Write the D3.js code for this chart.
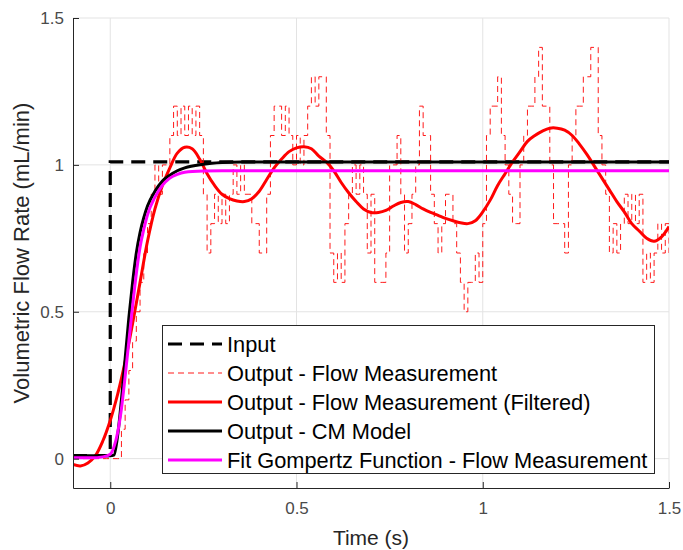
<!DOCTYPE html>
<html>
<head>
<meta charset="utf-8">
<script src="https://cdn.jsdelivr.net/npm/d3@7/dist/d3.min.js"></script>
<style>
  html, body { margin: 0; padding: 0; background: #fff; }
  svg { display: block; font-family: "Liberation Sans", Arial, Helvetica, sans-serif; }
</style>
</head>
<body>
<svg id="chart" width="683" height="550"></svg>
<script>
// ---------------- DATA ----------------
const xTicks = [0, 0.5, 1, 1.5];
const yTicks = [0, 0.5, 1, 1.5];
const xLabel = "Time (s)";
const yLabel = "Volumetric Flow Rate (mL/min)";
const legendLabels = [
  "Input",
  "Output - Flow Measurement",
  "Output - Flow Measurement (Filtered)",
  "Output - CM Model",
  "Fit Gompertz Function - Flow Measurement"
];

// Input step
const inputT = [-0.1, 0, 0, 1.5];
const inputV = [0.01, 0.01, 1.01, 1.01];

// Raw flow measurement, sampled every 0.01 s from -0.10 to 1.50
const measStart = -0.1, measStep = 0.01;
const measV = [
  0,0,0,0,0,0,0,0,0,0,0,0,0,
  0.1,0.2,0.3,0.4,0.5,0.6,0.7,0.8,0.9,1.0,
  0.9,1.0,1.0,1.1,1.2,1.1,1.2,1.1,1.2,1.1,
  1.2,1.1,0.9,0.7,0.8,0.9,0.8,0.9,0.8,0.9,
  1.0,0.9,1.0,0.9,0.9,0.8,0.8,0.7,0.7,0.9,
  1.1,1.2,1.2,1.1,1.2,1.1,1.0,1.1,1.0,1.1,
  1.2,1.3,1.2,1.3,1.3,1.1,0.7,0.6,0.7,0.6,
  0.8,0.9,1.0,0.9,1.0,0.9,0.7,0.9,0.6,0.6,
  0.6,0.7,1.0,1.0,1.1,0.9,0.7,0.8,0.9,1.0,
  1.2,1.1,1.1,0.9,0.8,0.7,0.8,0.9,0.9,0.8,
  0.7,0.6,0.5,0.6,0.6,0.7,0.6,0.8,1.1,1.2,
  1.2,1.3,1.1,1.0,0.9,0.8,0.8,1.0,1.1,1.2,
  1.2,1.3,1.4,1.2,1.2,1.0,0.8,0.8,0.8,0.7,
  1.0,1.1,1.2,1.2,1.3,1.3,1.4,1.4,1.1,1.0,
  0.9,0.7,0.8,0.7,0.8,0.9,0.8,0.9,0.8,0.9,
  0.6,0.7,0.6,0.7,0.8,0.7,0.8,0.7
];

// Filtered measurement
const filtT = [-0.10,-0.08,-0.06,-0.04,-0.02,0.00,0.02,0.04,0.06,0.08,0.10,0.12,0.14,0.16,0.18,0.20,0.22,0.24,0.26,0.28,0.30,0.32,0.34,0.36,0.38,0.40,0.42,0.44,0.46,0.48,0.50,0.52,0.54,0.56,0.58,0.60,0.62,0.64,0.66,0.68,0.70,0.72,0.74,0.76,0.78,0.80,0.82,0.84,0.86,0.88,0.90,0.92,0.94,0.96,0.98,1.00,1.02,1.04,1.06,1.08,1.10,1.12,1.14,1.16,1.18,1.20,1.22,1.24,1.26,1.28,1.30,1.32,1.34,1.36,1.38,1.40,1.42,1.44,1.46,1.48,1.50];
const filtV = [-0.02,-0.025,-0.015,0.01,0.06,0.13,0.22,0.33,0.46,0.60,0.74,0.85,0.93,0.99,1.04,1.06,1.055,1.02,0.97,0.93,0.90,0.885,0.877,0.875,0.885,0.91,0.95,0.99,1.02,1.045,1.058,1.062,1.055,1.03,1.01,0.98,0.94,0.905,0.875,0.85,0.838,0.838,0.845,0.86,0.872,0.875,0.865,0.85,0.838,0.828,0.818,0.81,0.803,0.80,0.81,0.84,0.88,0.93,0.97,1.01,1.045,1.08,1.10,1.115,1.125,1.125,1.118,1.10,1.07,1.035,0.995,0.955,0.915,0.875,0.84,0.80,0.775,0.75,0.74,0.755,0.79];

// CM model output
const cmT = [-0.10,0.00,0.01,0.02,0.03,0.04,0.05,0.06,0.07,0.08,0.09,0.10,0.12,0.14,0.16,0.18,0.20,0.25,0.30,0.35,1.50];
const cmV = [0.01,0.01,0.012,0.08,0.20,0.34,0.48,0.60,0.70,0.77,0.82,0.86,0.91,0.945,0.965,0.98,0.99,1.002,1.008,1.01,1.01];

// Gompertz fit
const gompT = [-0.10,-0.05,-0.02,0.00,0.01,0.02,0.03,0.04,0.05,0.06,0.07,0.08,0.09,0.10,0.12,0.14,0.16,0.18,0.20,0.25,0.30,1.50];
const gompV = [0.003,0.003,0.006,0.015,0.04,0.09,0.17,0.28,0.40,0.52,0.63,0.72,0.78,0.83,0.89,0.93,0.955,0.968,0.975,0.979,0.98,0.98];

// ---------------- CHART ----------------
const svg = d3.select("#chart");
const pL = 73, pR = 669, pT = 18, pB = 488;
const x = d3.scaleLinear().domain([-0.1, 1.5]).range([pL, pR]);
const y = d3.scaleLinear().domain([-0.1, 1.5]).range([pB, pT]);
const axisColor = "#262626";

// grid
const grid = svg.append("g");
grid.selectAll("line.gx").data(xTicks).join("line")
  .attr("x1", d => x(d)).attr("x2", d => x(d))
  .attr("y1", pT).attr("y2", pB)
  .attr("stroke", "#e3e3e3").attr("stroke-width", 1);
grid.selectAll("line.gy").data(yTicks).join("line")
  .attr("x1", pL).attr("x2", pR)
  .attr("y1", d => y(d)).attr("y2", d => y(d))
  .attr("stroke", "#e3e3e3").attr("stroke-width", 1);

// clip
svg.append("clipPath").attr("id", "clip").append("rect")
  .attr("x", pL).attr("y", pT).attr("width", pR - pL).attr("height", pB - pT);
const plot = svg.append("g").attr("clip-path", "url(#clip)");

const zip = (ts, vs) => ts.map((t, i) => [t, vs[i]]);
const lineLin = d3.line().x(d => x(d[0])).y(d => y(d[1]));

// Input
plot.append("path").datum(zip(inputT, inputV))
  .attr("d", lineLin).attr("fill", "none")
  .attr("stroke", "#000").attr("stroke-width", 3.2)
  .attr("stroke-dasharray", "14,8");

// Measurement
const measData = measV.map((v, i) => [measStart + i * measStep, v]);
plot.append("path").datum(measData)
  .attr("d", d3.line().x(d => x(d[0])).y(d => y(d[1])).curve(d3.curveStepAfter))
  .attr("fill", "none").attr("stroke", "#ff0000").attr("stroke-width", 0.9)
  .attr("stroke-dasharray", "6,4");

// Filtered
plot.append("path").datum(zip(filtT, filtV))
  .attr("d", d3.line().x(d => x(d[0])).y(d => y(d[1])).curve(d3.curveCatmullRom))
  .attr("fill", "none").attr("stroke", "#ff0000").attr("stroke-width", 3);

// CM model
plot.append("path").datum(zip(cmT, cmV))
  .attr("d", d3.line().x(d => x(d[0])).y(d => y(d[1])).curve(d3.curveMonotoneX))
  .attr("fill", "none").attr("stroke", "#000").attr("stroke-width", 3);

// Gompertz
plot.append("path").datum(zip(gompT, gompV))
  .attr("d", d3.line().x(d => x(d[0])).y(d => y(d[1])).curve(d3.curveMonotoneX))
  .attr("fill", "none").attr("stroke", "#ff00ff").attr("stroke-width", 3);

// axes
const xAxis = svg.append("g").attr("transform", `translate(0,${pB})`)
  .call(d3.axisBottom(x).tickValues(xTicks).tickFormat(d3.format("")).tickSizeInner(-6).tickSizeOuter(0).tickPadding(14));
const yAxis = svg.append("g").attr("transform", `translate(${pL},0)`)
  .call(d3.axisLeft(y).tickValues(yTicks).tickFormat(d3.format("")).tickSizeInner(-6).tickSizeOuter(0).tickPadding(9));
[xAxis, yAxis].forEach(a => {
  a.select(".domain").attr("stroke", axisColor);
  a.selectAll(".tick line").attr("stroke", axisColor);
  a.selectAll(".tick text").attr("fill", "#4a4a4a").attr("font-size", 17)
    .attr("font-family", "'Liberation Sans', Arial, sans-serif");
});

// axis labels
svg.append("text").attr("x", (pL + pR) / 2).attr("y", 545)
  .attr("text-anchor", "middle").attr("font-size", 21).attr("fill", "#262626").text(xLabel);
svg.append("text").attr("transform", `translate(29,${(pT + pB) / 2}) rotate(-90)`)
  .attr("text-anchor", "middle").attr("font-size", 22).attr("fill", "#262626").text(yLabel);

// legend
const lg = svg.append("g");
lg.append("rect").attr("x", 162.5).attr("y", 325.5).attr("width", 492).attr("height", 148)
  .attr("fill", "#fff").attr("stroke", axisColor).attr("stroke-width", 1);
const legStyles = [
  { c: "#000", w: 3.2, dash: "14,8" },
  { c: "#ff0000", w: 0.9, dash: "6,4" },
  { c: "#ff0000", w: 3, dash: null },
  { c: "#000", w: 3, dash: null },
  { c: "#ff00ff", w: 3, dash: null }
];
legendLabels.forEach((lab, i) => {
  const yy = 344 + i * 29;
  const s = legStyles[i];
  const ln = lg.append("line").attr("x1", 168).attr("x2", 222).attr("y1", yy).attr("y2", yy)
    .attr("stroke", s.c).attr("stroke-width", s.w);
  if (s.dash) ln.attr("stroke-dasharray", s.dash);
  lg.append("text").attr("x", 227).attr("y", yy).attr("dy", "0.35em")
    .attr("font-size", 21.8).attr("fill", "#000").text(lab);
});
</script>
</body>
</html>
